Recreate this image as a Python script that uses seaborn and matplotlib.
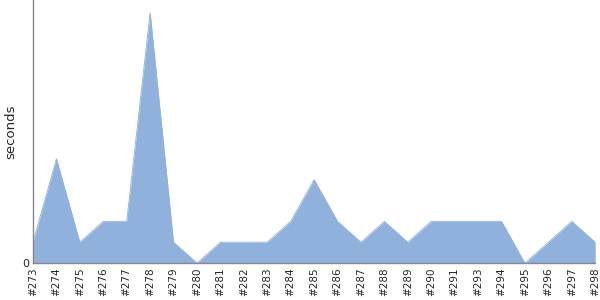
import matplotlib
matplotlib.use("Agg")
import matplotlib.pyplot as plt
import seaborn as sns
import pandas as pd

builds = ["#273", "#274", "#275", "#276", "#277", "#278", "#279", "#280", "#281",
          "#282", "#283", "#284", "#285", "#286", "#287", "#288", "#289", "#290",
          "#291", "#293", "#294", "#295", "#296", "#297", "#298"]
seconds = [1, 5, 1, 2, 2, 12, 1, 0, 1, 1, 1, 2, 4, 2, 1, 2, 1, 2, 2, 2, 2, 0, 1, 2, 1]

df = pd.DataFrame({"build": builds, "seconds": seconds})
df["pos"] = range(len(df))

sns.set_style("white")
fig = plt.figure(figsize=(6, 3), dpi=100)
ax = fig.add_axes([0.055, 0.123, 0.937, 0.877])

color = "#8fb1db"
sns.lineplot(data=df, x="pos", y="seconds", ax=ax, color=color, linewidth=0.6)
ax.fill_between(df["pos"], df["seconds"], 0, color=color, linewidth=0)

ax.set_xlim(0, len(df) - 1)
ax.set_ylim(0, 12.6)
ax.set_xticks(df["pos"])
ax.set_xticklabels(df["build"], rotation=90, fontsize=7.5)
ax.set_yticks([0])
ax.set_yticklabels(["0"], fontsize=8)
ax.tick_params(axis="both", length=0, pad=3)
ax.set_xlabel("")
ax.set_ylabel("seconds", fontsize=9.5, labelpad=3)

for s in ["top", "right"]:
    ax.spines[s].set_visible(False)
for s in ["left", "bottom"]:
    ax.spines[s].set_color("#888888")
    ax.spines[s].set_linewidth(1)

fig.savefig("out.png", dpi=100)
